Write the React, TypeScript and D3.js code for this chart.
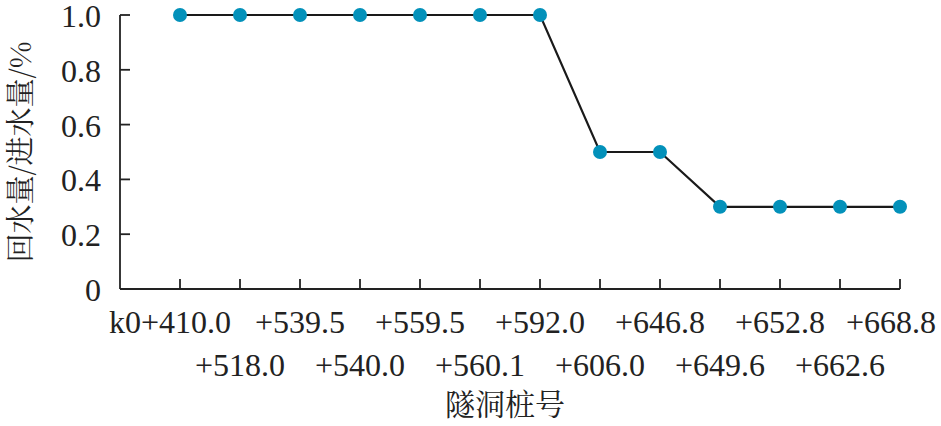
import React from "react";
import * as d3 from "d3";

const stations = [
  "k0+410.0", "+518.0", "+539.5", "+540.0", "+559.5", "+560.1", "+592.0",
  "+606.0", "+646.8", "+649.6", "+652.8", "+662.6", "+668.8",
];
const ratios = [1.0, 1.0, 1.0, 1.0, 1.0, 1.0, 1.0, 0.5, 0.5, 0.3, 0.3, 0.3, 0.3];
const yTicks = [0, 0.2, 0.4, 0.6, 0.8, 1.0];
const yTitle = "回水量/进水量/%";
const xTitle = "隧洞桩号";

const W = 941;
const H = 426;

export default function App() {
  const n = stations.length;
  const x = d3.scaleLinear().domain([-1, n - 1]).range([120, 900]);
  const y = d3.scaleLinear().domain([0, 1]).range([289, 15]);
  const line = d3
    .line<number>()
    .x((_, i) => x(i))
    .y((d) => y(d));
  const serif = "Liberation Serif";
  const cjk = "Noto Serif CJK SC";
  const fs = 32;
  const labelShift = (i: number) => (i === 0 ? -10 : i === n - 1 ? -9 : 0);
  return (
    <svg width={W} height={H} style={{ position: "absolute", left: 0, top: 0, background: "#fff" }}>
      <line x1={x(-1)} x2={x(-1)} y1={y(1)} y2={y(0)} stroke="#222" strokeWidth={1.8} />
      <line x1={x(-1)} x2={x(n - 1)} y1={y(0)} y2={y(0)} stroke="#222" strokeWidth={1.8} />
      {yTicks.map((t) => (
        <g key={t}>
          <line x1={x(-1)} x2={x(-1) + 10} y1={y(t)} y2={y(t)} stroke="#222" strokeWidth={1.8} />
          <text x={101} y={y(t) + 12} textAnchor="end" fontFamily={serif} fontSize={fs} fill="#222">
            {t === 0 ? "0" : t.toFixed(1)}
          </text>
        </g>
      ))}
      {stations.map((s, i) => (
        <g key={s}>
          <line x1={x(i)} x2={x(i)} y1={y(0)} y2={y(0) - 10} stroke="#222" strokeWidth={1.8} />
          <text
            x={x(i) + labelShift(i)}
            y={i % 2 === 0 ? 333 : 376}
            textAnchor="middle"
            fontFamily={serif}
            fontSize={fs}
            fill="#222"
          >
            {s}
          </text>
        </g>
      ))}
      <text x={505} y={415} textAnchor="middle" fontFamily={cjk} fontSize={30} fill="#222">
        {xTitle}
      </text>
      <text
        transform={`translate(31, 152) rotate(-90)`}
        textAnchor="middle"
        fontFamily={cjk}
        fontSize={29}
        fill="#222"
      >
        {yTitle}
      </text>
      <path d={line(ratios) || ""} fill="none" stroke="#1a1a1a" strokeWidth={2.2} />
      {ratios.map((v, i) => (
        <circle key={i} cx={x(i)} cy={y(v)} r={7} fill="#0391BA" />
      ))}
    </svg>
  );
}
